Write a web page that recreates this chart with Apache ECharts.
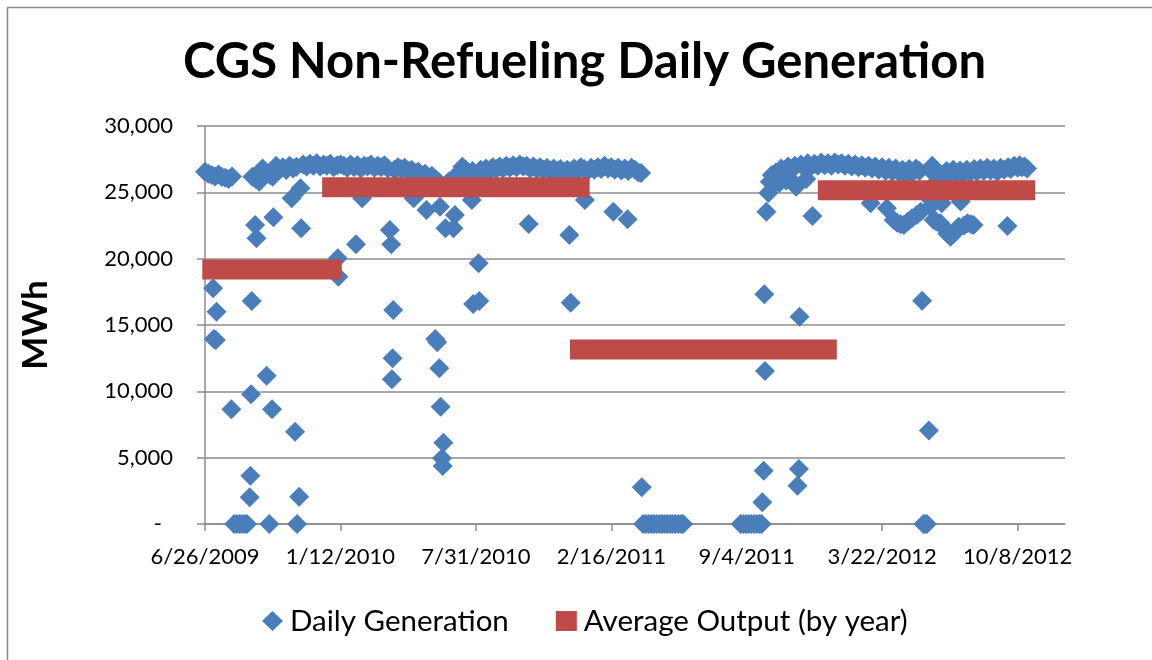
<!DOCTYPE html>
<html>
<head>
<meta charset="utf-8">
<script src="https://cdn.jsdelivr.net/npm/echarts@6.0.0/dist/echarts.min.js"></script>
<style>
html,body{margin:0;padding:0;background:#fff;}
#chart{width:1152px;height:660px;}
</style>
</head>
<body>
<div id="chart"></div>
<script>
// Dates are Excel serial numbers (40000 = 6/26/2009)
var tickValues = [40000, 40200, 40400, 40600, 40800, 41000, 41200];
var tickLabels = ['6/26/2009', '1/12/2010', '7/31/2010', '2/16/2011', '9/4/2011', '3/22/2012', '10/8/2012'];

// Daily Generation (MWh): [date serial, MWh]
var gen2009 = [
[40000,26550],[40005,26400],[40010,26300],[40012,17770],[40013,13950],[40015,26200],[40016,13870],[40017,16000],
[40020,26350],[40025,26150],[40030,26100],[40035,26000],[40039,8650],[40040,26200],
[40043,0],[40047,0],[40051,0],[40055,0],[40059,0],[40062,0],
[40066,2010],[40067,3640],[40068,9780],[40069,16810],[40070,26180],[40074,22540],[40075,26000],[40076,21540],
[40080,25800],[40085,26800],[40090,26500],[40091,11180],[40095,0],[40096,26300],[40099,8650],[40100,26180],
[40101,23120],[40105,27000],[40110,26700],[40115,26900],[40120,26690],[40125,27000],[40128,24550],[40130,26800],
[40133,6960],[40135,26930],[40136,0],[40139,2060],[40141,25300],[40142,22290],[40145,27100],[40150,26950],
[40155,27150],[40160,27000],[40165,27200],[40170,26950],[40175,27100]
];
var gen2010 = [
[40180,27000],[40185,27150],[40190,26900],[40195,27050],[40196,20030],[40197,18640],[40200,27100],[40205,27000],
[40210,26850],[40215,27100],[40220,26900],[40223,21080],[40225,27050],[40230,26800],[40232,24550],[40235,27000],
[40240,26950],[40245,27100],[40250,26850],[40255,27000],[40260,26900],[40265,27050],[40270,26800],[40273,22160],
[40275,21080],[40276,10910],[40277,12490],[40278,16130],[40280,26700],[40285,26900],[40290,26750],[40295,26850],
[40300,26600],[40305,26700],[40308,24550],[40310,24670],[40312,26450],[40315,26550],[40320,26300],[40325,26400],
[40327,23670],[40330,26150],[40335,26250],[40340,13940],[40341,25950],[40343,13700],[40345,25800],[40346,11740],
[40347,23920],[40348,8840],[40350,4950],[40351,4370],[40352,6130],[40355,22290],[40357,25650],[40360,25800],
[40363,25500],[40365,25700],[40367,22290],[40369,23290],[40370,26000],[40375,26500],[40380,26930],[40385,26700],
[40390,26450],[40394,24420],[40395,26600],[40396,16580],[40400,26350],[40404,19650],[40405,16810],[40407,26700],
[40410,26550],[40415,26800],[40420,26650],[40425,26900],[40430,26750],[40435,26950],[40440,26800],[40445,27000],
[40450,26850],[40455,27050],[40460,26900],[40465,27100],[40470,26950],[40475,27000],[40478,22610],[40480,26800],
[40485,26950],[40490,26750],[40495,26900],[40500,26700],[40505,26850],[40510,26650],[40515,26800],[40520,26600],
[40525,26750],[40530,26550],[40535,26700],[40538,21790],[40540,16680],[40541,26600]
];
var gen2011 = [
[40545,26800],[40550,26650],[40555,26900],[40560,26750],[40561,24420],[40565,26600],[40570,26850],[40575,26700],
[40580,26900],[40585,26750],[40590,27000],[40595,26800],[40600,26900],[40603,23540],[40605,26700],[40610,26850],
[40615,26650],[40620,26800],[40624,22970],[40625,26600],[40630,26850],[40635,26700],[40640,26500],[40644,26450],
[40645,2770],
[40647,0],[40651,0],[40655,0],[40659,0],[40663,0],[40667,0],[40671,0],[40675,0],[40679,0],[40683,0],[40687,0],
[40691,0],[40695,0],[40699,0],[40703,0],[40706,0],
[40791,0],[40795,0],[40799,0],[40803,0],[40807,0],[40811,0],[40815,0],[40819,0],[40822,0],
[40823,1640],[40825,4020],[40826,17320],[40827,11530],[40829,23540],[40832,24950],[40834,25800],[40837,26300],
[40840,25600],[40843,26500],[40846,26200],[40848,25700],[40851,26800],[40855,26500],[40858,25900],[40861,26950],
[40865,26600],[40868,25800],[40871,27000],[40873,25430],[40875,2890],[40877,4150],[40878,15630],[40880,27100],
[40885,26900],[40888,26000],[40890,27200],[40895,26950],[40897,23220],[40900,27150],[40905,27000]
];
var gen2012 = [
[40910,27250],[40915,27050],[40920,27200],[40925,27000],[40930,27250],[40935,27100],[40940,27200],[40945,27000],
[40950,27150],[40955,26950],[40960,27100],[40965,26900],[40970,27050],[40975,26850],[40980,27000],[40983,24180],
[40985,26800],[40990,26950],[40995,26700],[41000,26900],[41005,26600],[41007,23800],[41010,26850],[41015,26550],
[41017,22920],[41020,26800],[41022,22700],[41025,26500],[41027,22600],[41030,26700],[41032,22540],[41035,26400],
[41038,22800],[41040,26750],[41044,23040],[41045,26500],[41050,26800],[41051,23300],[41055,26600],[41057,23540],
[41059,16830],[41061,0],[41063,0],[41066,0],[41069,7040],[41071,23920],[41072,24420],[41074,27000],[41076,22920],
[41078,26300],[41080,22800],[41082,25900],[41086,22670],[41087,26000],[41088,24180],[41090,26300],[41092,22300],
[41095,26600],[41096,21900],[41100,26400],[41101,21660],[41105,26700],[41106,21900],[41108,22100],[41110,26450],
[41113,22410],[41115,26650],[41116,24300],[41120,26400],[41121,22500],[41125,26700],[41126,22670],[41130,26500],
[41131,22600],[41135,22540],[41136,26750],[41140,26550],[41145,26800],[41150,26600],[41155,26850],[41160,26650],
[41165,26800],[41170,26550],[41175,26850],[41180,26700],[41185,22460],[41186,26900],[41190,26750],[41195,27000],
[41200,26850],[41203,27050],[41206,26900],[41210,26950],[41214,26800]
];

// Average Output (by year)
var avgStart = [39996, 40173, 40539, 40905];
var avgEnd   = [40202, 40568, 40933, 41226];
var avgValue = [19190, 25390, 13150, 25150];

var dailyData = gen2009.concat(gen2010, gen2011, gen2012);
var avgData = [];
for (var i = 0; i < avgValue.length; i++) {
  if (i > 0) avgData.push(['-', '-']);
  avgData.push([avgStart[i], avgValue[i]]);
  avgData.push([avgEnd[i], avgValue[i]]);
}

var FONT = 'Lato';
var GRID = '#8c8c8c';
var chart = echarts.init(document.getElementById('chart'), null, {renderer: 'canvas'});
chart.setOption({
  animation: false,
  backgroundColor: '#fff',
  title: {
    text: 'CGS Non-Refueling Daily Generation',
    left: 178,
    top: 33,
    textStyle: {fontFamily: FONT, fontWeight: 'bold', fontSize: 49, color: '#000'}
  },
  graphic: [{
    type: 'rect', silent: true, z: -1,
    shape: {x: 7.5, y: 7.5, width: 1300, height: 800},
    style: {fill: 'none', stroke: '#8a8a8a', lineWidth: 1.5}
  }],
  legend: {
    left: 257, top: 601,
    itemWidth: 21, itemHeight: 20, itemGap: 47,
    textStyle: {fontFamily: FONT, fontSize: 29.5, color: '#000', padding: [0, 0, 0, 2]},
    data: [
      {name: 'Daily Generation', icon: 'diamond'},
      {name: 'Average Output (by year)', icon: 'rect'}
    ]
  },
  grid: {left: 205, right: 87, top: 126, bottom: 136},
  xAxis: {
    type: 'value',
    min: 40000, max: 41270,
    axisLine: {show: true, lineStyle: {color: GRID, width: 1.5}},
    axisTick: {show: true, length: 7, customValues: tickValues, lineStyle: {color: GRID, width: 1.5}},
    axisLabel: {
      customValues: tickValues, margin: 22,
      fontFamily: FONT, fontSize: 22, color: '#000',
      formatter: function (v) { var k = tickValues.indexOf(v); return k >= 0 ? tickLabels[k] : ''; }
    },
    splitLine: {show: false}
  },
  yAxis: {
    type: 'value',
    min: 0, max: 30000, interval: 5000,
    name: 'MWh', nameLocation: 'middle', nameRotate: 90, nameGap: 152,
    nameTextStyle: {fontFamily: FONT, fontWeight: 'bold', fontSize: 35, color: '#000'},
    axisLine: {show: true, lineStyle: {color: GRID, width: 1.5}},
    axisTick: {show: true, length: 8, lineStyle: {color: GRID, width: 1.5}},
    axisLabel: {
      margin: 32, fontFamily: FONT, fontSize: 22, color: '#000',
      formatter: function (v) { return v === 0 ? '{z|-}' : v.toLocaleString('en-US'); },
      rich: {z: {fontFamily: FONT, fontSize: 22, color: '#000', padding: [0, 11, 0, 0]}}
    },
    splitLine: {show: true, lineStyle: {color: GRID, width: 1.5}}
  },
  series: [
    {
      name: 'Daily Generation', type: 'scatter',
      symbol: 'diamond', symbolSize: 20,
      itemStyle: {color: '#4A7EBB', opacity: 1},
      data: dailyData
    },
    {
      name: 'Average Output (by year)', type: 'line',
      showSymbol: false, symbol: 'none', clip: false, connectNulls: false,
      itemStyle: {color: '#BE4B48'},
      lineStyle: {color: '#BE4B48', width: 20, cap: 'butt'},
      data: avgData
    }
  ]
});
</script>
</body>
</html>
